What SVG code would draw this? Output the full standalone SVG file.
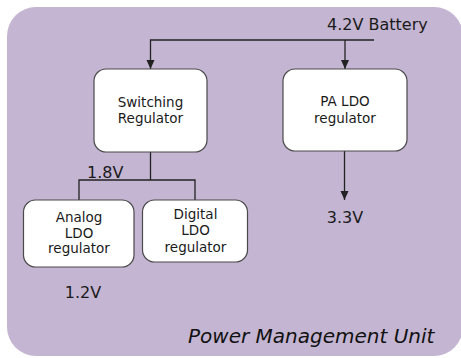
<svg xmlns="http://www.w3.org/2000/svg" width="461" height="358" viewBox="0 0 461 358">
<defs>
<style>
.bg{fill:#c4b5d2;}
.box{fill:#ffffff;stroke:#4a4a4a;stroke-width:1.2;}
.lbl{font-family:"DejaVu Sans","Liberation Sans",sans-serif;font-size:13.5px;fill:#1a1a1a;text-anchor:middle;}
.v{font-family:"DejaVu Sans","Liberation Sans",sans-serif;font-size:16px;fill:#1a1a1a;}
.title{font-family:"DejaVu Sans","Liberation Sans",sans-serif;font-size:20px;font-style:italic;fill:#111;}
.wire{fill:none;stroke:#222;stroke-width:1.3;}
</style>
<marker id="arr" markerUnits="userSpaceOnUse" markerWidth="10" markerHeight="10" refX="9" refY="4" orient="auto">
<path d="M0,0 L9,4 L0,8 Z" fill="#222"/>
</marker>
</defs>
<rect class="bg" x="7" y="7" width="456" height="349" rx="29" ry="29"/>

<g id="connectors">
<path class="wire" d="M374,40 H150.5 V69" marker-end="url(#arr)"/>
<path class="wire" d="M345,40 V69" marker-end="url(#arr)"/>
<path class="wire" d="M150.5,152 V180"/>
<path class="wire" d="M79,200 V180 H195 V200"/>
<path class="wire" d="M344.5,151 V200" marker-end="url(#arr)"/>
</g>

<g id="switching">
<rect class="box" x="94" y="69" width="113" height="83" rx="12"/>
<text class="lbl" x="150.5" y="106.5">Switching</text>
<text class="lbl" x="150.5" y="122.5">Regulator</text>
</g>
<g id="paldo">
<rect class="box" x="283" y="69" width="124" height="82" rx="12"/>
<text class="lbl" x="345" y="106">PA LDO</text>
<text class="lbl" x="345" y="122.5">regulator</text>
</g>
<g id="analog">
<rect class="box" x="23.5" y="200" width="110.5" height="67" rx="12"/>
<text class="lbl" x="79" y="221.5">Analog</text>
<text class="lbl" x="79" y="237.5">LDO</text>
<text class="lbl" x="79" y="253">regulator</text>
</g>
<g id="digital">
<rect class="box" x="142.5" y="200" width="105" height="62" rx="12"/>
<text class="lbl" x="195.5" y="218.5">Digital</text>
<text class="lbl" x="195.5" y="235">LDO</text>
<text class="lbl" x="195.5" y="251.5">regulator</text>
</g>

<g id="labels">
<text class="v" x="327" y="29.5">4.2V Battery</text>
<text class="v" x="87" y="178">1.8V</text>
<text class="v" x="345" y="223" text-anchor="middle">3.3V</text>
<text class="v" x="83" y="298" text-anchor="middle">1.2V</text>
<text class="title" x="188" y="343">Power Management Unit</text>
</g>
</svg>
